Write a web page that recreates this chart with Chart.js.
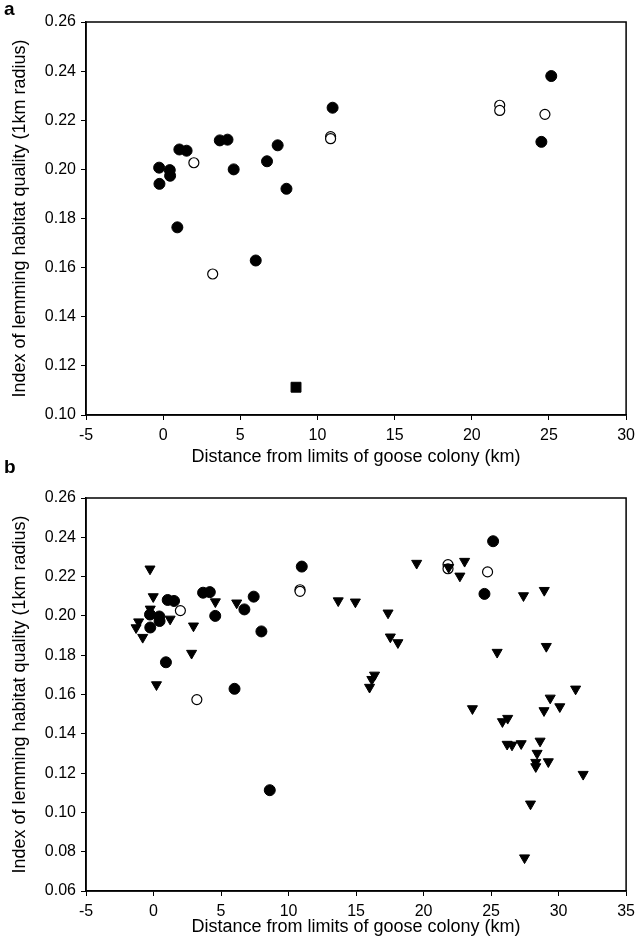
<!DOCTYPE html>
<html>
<head>
<meta charset="utf-8">
<script src="https://cdn.jsdelivr.net/npm/chart.js@4"></script>
<style>
    body { margin: 0; background: #fff; }
    #wrap { position: relative; width: 641px; height: 939px; }
    canvas { position: absolute; left: 0; }
    .panel { position: absolute; left: 4px; font: bold 19px "Liberation Sans", Arial, sans-serif; }
</style>
</head>
<body>
<div id="wrap">
    <canvas id="chartA" width="641" height="469" style="top:0"></canvas>
    <canvas id="chartB" width="641" height="470" style="top:469px"></canvas>
    <div class="panel" style="top:-2px">a</div>
    <div class="panel" style="top:456px">b</div>
</div>
<script>
// filled circles (same sites in both panels)
const filledX = [-0.26, -0.24, 0.43, 0.45, 1.05, 1.52, 3.67, 4.17, 4.57, 6.73, 7.42, 7.99, 10.98, 25.15, 24.51, 0.92, 6.0];
const filledY = [0.2007, 0.1941, 0.1997, 0.1974, 0.2081, 0.2076, 0.2118, 0.2121, 0.2000, 0.2033, 0.2098, 0.1921, 0.2251, 0.2380, 0.2112, 0.1764, 0.1629];

// open circles
const openX = [1.99, 10.85, 10.85, 21.81, 21.81, 24.74, 3.21];
const openY = [0.2027, 0.2133, 0.2125, 0.2261, 0.2240, 0.2224, 0.1574];

// square in panel a, shown as filled circle in panel b
const squareX = [8.61];
const squareY = [0.1113];

// triangles (panel b only)
const triX = [-0.26, -0.02, -0.24, -1.10, -1.29, -0.80, 1.23, 2.96, 2.82, 4.58, 0.22, 6.16,
    13.68, 14.95, 17.37, 17.54, 18.10, 19.49, 21.86, 23.04, 22.69, 27.40, 28.94, 25.45, 29.09,
    16.37, 16.17, 16.00, 23.62, 26.23, 25.84, 29.38, 30.09, 28.92, 31.26,
    26.19, 26.55, 27.23, 28.63, 28.41, 29.24, 28.31, 28.31, 31.82, 27.92, 27.48];
const triY = [0.2239, 0.2098, 0.2035, 0.1970, 0.1940, 0.1891, 0.1984, 0.1949, 0.1810, 0.2072, 0.1650, 0.2066,
    0.2077, 0.2071, 0.2015, 0.1893, 0.1864, 0.2268, 0.2247, 0.2278, 0.2203, 0.2103, 0.2130, 0.1815, 0.1845,
    0.1699, 0.1677, 0.1637, 0.1528, 0.1479, 0.1462, 0.1582, 0.1538, 0.1518, 0.1628,
    0.1347, 0.1343, 0.1350, 0.1363, 0.1301, 0.1258, 0.1255, 0.1233, 0.1194, 0.1043, 0.0769];

const xTitle = 'Distance from limits of goose colony (km)';
const yTitle = 'Index of lemming habitat quality (1km radius)';
const fontFamily = '"Liberation Sans", Arial, sans-serif';

function pts(xs, ys) {
    return xs.map((x, i) => ({ x: x, y: ys[i] }));
}

// box round the plot area
const frame = {
    id: 'frame',
    afterDraw(chart) {
        const { ctx, chartArea: a } = chart;
        ctx.save();
        ctx.strokeStyle = '#000';
        ctx.lineWidth = 1.5;
        ctx.strokeRect(a.left, a.top, a.right - a.left, a.bottom - a.top);
        ctx.restore();
    }
};

function makeOptions(xMax, yMin, topPad, xAxisHeight) {
    return {
        responsive: false,
        animation: false,
        events: [],
        layout: { padding: { left: 0, right: 9, top: topPad, bottom: 0 } },
        plugins: { legend: { display: false }, tooltip: { enabled: false } },
        scales: {
            x: {
                type: 'linear',
                min: -5,
                max: xMax,
                afterFit: s => { s.height = xAxisHeight; },
                grid: { drawOnChartArea: false, color: '#000', tickLength: 5 },
                border: { color: '#000', width: 1.5 },
                ticks: { stepSize: 5, padding: 6, color: '#000', font: { family: fontFamily, size: 16 } },
                title: { display: true, text: xTitle, color: '#000', padding: { top: 0, bottom: 1 },
                    font: { family: fontFamily, size: 18 } }
            },
            y: {
                type: 'linear',
                min: yMin,
                max: 0.26,
                afterFit: s => { s.width = 86; },
                grid: { drawOnChartArea: false, color: '#000', tickLength: 5 },
                border: { color: '#000', width: 1.5 },
                ticks: { stepSize: 0.02, padding: 5, color: '#000', font: { family: fontFamily, size: 16 },
                    callback: v => v.toFixed(2) },
                title: { display: true, text: yTitle, color: '#000', padding: { top: 9, bottom: 0 },
                    font: { family: fontFamily, size: 18 } }
            }
        }
    };
}

const filledStyle = { backgroundColor: '#000', borderColor: '#000', pointRadius: 5.5, borderWidth: 1 };
const openStyle = { backgroundColor: '#fff', borderColor: '#000', pointRadius: 5, borderWidth: 1.2 };

new Chart(document.getElementById('chartA'), {
    type: 'scatter',
    data: {
        datasets: [
            Object.assign({ data: pts(filledX, filledY) }, filledStyle),
            Object.assign({ data: pts(openX, openY) }, openStyle),
            { data: pts(squareX, squareY), pointStyle: 'rect', pointRadius: 7, backgroundColor: '#000', borderColor: '#000' }
        ]
    },
    options: makeOptions(30, 0.10, 22, 54),
    plugins: [frame]
});

new Chart(document.getElementById('chartB'), {
    type: 'scatter',
    data: {
        datasets: [
            { data: pts(triX, triY), pointStyle: 'triangle', rotation: 180, pointRadius: 5.8,
              backgroundColor: '#000', borderColor: '#000', borderWidth: 1 },
            Object.assign({ data: pts(filledX.concat(squareX), filledY.concat(squareY)) }, filledStyle),
            Object.assign({ data: pts(openX, openY) }, openStyle)
        ]
    },
    options: makeOptions(35, 0.06, 29, 48),
    plugins: [frame]
});
</script>
</body>
</html>
